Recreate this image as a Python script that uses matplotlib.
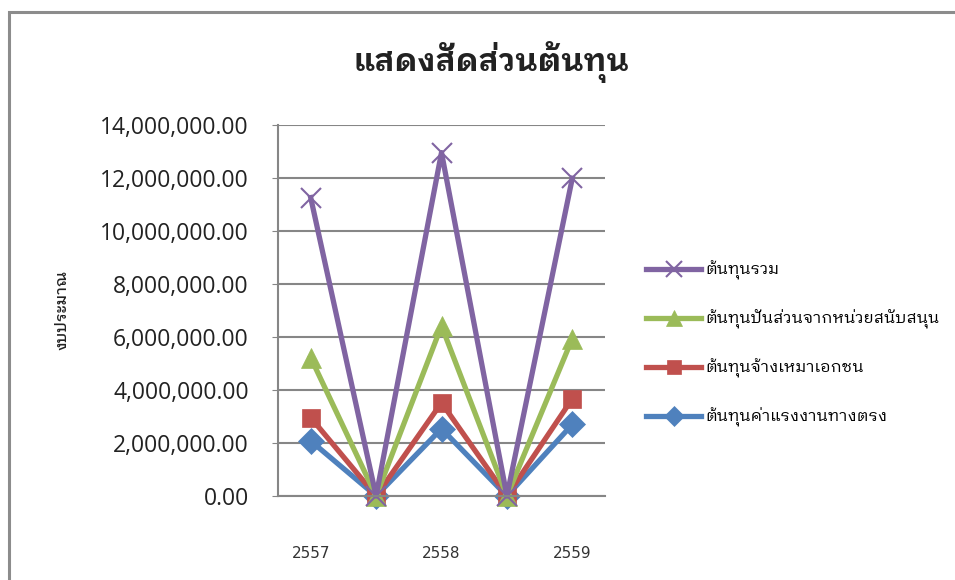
import matplotlib
matplotlib.use("Agg")
import matplotlib.pyplot as plt
from matplotlib.patches import Rectangle
from matplotlib.ticker import FuncFormatter

# data
years = ["2557", "", "2558", "", "2559"]
labor = [2080000, 0, 2540000, 0, 2700000]
hire = [2960000, 0, 3520000, 0, 3670000]
share = [5220000, 0, 6420000, 0, 5940000]
total = [11260000, 0, 12960000, 0, 11990000]

series_names = ["ต้นทุนค่าแรงงานทางตรง", "ต้นทุนจ้างเหมาเอกชน",
                "ต้นทุนปันส่วนจากหน่วยสนับสนุน", "ต้นทุนรวม"]
title = "แสดงสัดส่วนต้นทุน"
ylabel = "งบประมาณ"

fam = ["IBM Plex Sans Thai Looped", "Noto Sans Thai Looped", "DejaVu Sans"]

fig = plt.figure(figsize=(9.55, 5.8), dpi=100)
# outer chart frame (runs off the right and bottom edges)
fig.patches.append(Rectangle((9 / 955, -0.1), 1.2, (580 - 12) / 580 + 0.1,
                             transform=fig.transFigure, fill=False,
                             edgecolor="#8c8c8c", linewidth=2.2))
ax = fig.add_axes([278 / 955, 84 / 580, 327 / 955, 371 / 580])

x = range(len(years))
styles = [("#4F81BD", "D", 13), ("#C0504D", "s", 13),
          ("#9BBB59", "^", 14), ("#8064A2", "x", 14)]
for vals, name, (c, m, ms) in zip([labor, hire, share, total], series_names, styles):
    ax.plot(x, vals, color=c, linewidth=3.8, marker=m, markersize=ms,
            markeredgewidth=1.5 if m == "x" else 0.5, label=name, clip_on=False)

ax.set_xlim(-0.5, len(years) - 0.5)
ax.set_ylim(0, 14000000)
ax.set_yticks(range(0, 14000001, 2000000))
ax.yaxis.set_major_formatter(FuncFormatter(lambda v, p: f"{v:,.2f}"))
ax.set_xticks(list(x))
ax.set_xticklabels(years)
ax.grid(axis="y", color="#868686", linewidth=1.5)
ax.set_axisbelow(True)
for s in ["top", "right"]:
    ax.spines[s].set_visible(False)
for s in ["left", "bottom"]:
    ax.spines[s].set_color("#868686")
    ax.spines[s].set_linewidth(1.5)
ax.tick_params(axis="y", length=4, color="#868686", labelsize=16.5, pad=17,
               labelcolor="#222222")
ax.tick_params(axis="x", length=0, labelsize=11, pad=36, labelcolor="#333333")
for t in ax.get_yticklabels():
    t.set_family(["Open Sans", "DejaVu Sans"])

ax.set_ylabel(ylabel, family=fam, fontsize=11, fontweight="medium",
              labelpad=22, color="#222222")
fig.text(491 / 955, 1 - 62 / 580, title, family=fam, fontsize=22.5,
         fontweight="bold", ha="center", va="center", color="#222222")

h, l = ax.get_legend_handles_labels()
leg = fig.legend(h[::-1], l[::-1], loc="center left",
                 bbox_to_anchor=(631 / 955, 1 - 344 / 580), frameon=False,
                 prop={"family": fam, "size": 11.8}, handlelength=3.4,
                 labelspacing=1.8, handletextpad=0.25, markerscale=0.8)

fig.savefig("out.png", dpi=100)
